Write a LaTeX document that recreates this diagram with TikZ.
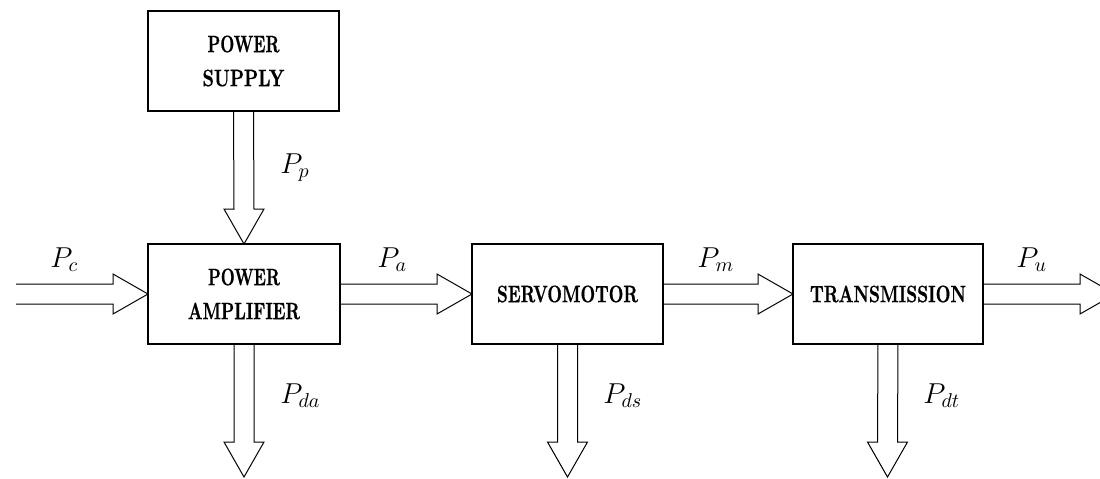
\documentclass[tikz,border=0pt]{standalone}
\usepackage{graphicx}
\usepackage{fontspec}
\newfontfamily\boxfont[FakeBold=0.7]{lmroman10-bold.otf}
\usetikzlibrary{calc}
\newcommand\bw[2]{\resizebox{#1}{8.3pt}{\boxfont #2}}
\newcommand\harr[2]{\draw[fatline] ($#1+(0,5pt)$) -- ($#2+(-17.5pt,5pt)$) -- ($#2+(-17.5pt,10pt)$) -- #2 -- ($#2+(-17.5pt,-10pt)$) -- ($#2+(-17.5pt,-5pt)$) -- ($#1+(0,-5pt)$);}
\newcommand\varr[2]{\draw[fatline] ($#1+(-5pt,0)$) -- ($#2+(-5pt,17.5pt)$) -- ($#2+(-10pt,17.5pt)$) -- #2 -- ($#2+(10pt,17.5pt)$) -- ($#2+(5pt,17.5pt)$) -- ($#1+(5pt,0)$);}
\tikzset{
  blk/.style={draw, line width=0.8pt, outer sep=0pt, inner sep=0pt, minimum height=50pt, align=center, font=\fontsize{11.5}{17}\selectfont},
  fatline/.style={draw, line width=0.5pt, line join=miter},
  lbl/.style={anchor=base west, inner sep=0pt, font=\fontsize{14.5}{17}\selectfont}
}
\begin{document}
\begin{tikzpicture}[x=0.5pt,y=-0.5pt]
\useasboundingbox (0,0) rectangle (1100,478);
\clip (0,0) rectangle (1100,478);
\node[blk, minimum width=95.5pt] (PS) at (243.5,61) {\bw{36pt}{POWER}\\\bw{41pt}{SUPPLY}};
\node[blk, minimum width=96pt] (PA) at (244,294) {\bw{36pt}{POWER}\\\bw{56pt}{AMPLIFIER}};
\node[blk, minimum width=95.5pt] (SM) at (567.5,294) {\bw{70.5pt}{SERVOMOTOR}};
\node[blk, minimum width=95pt] (TR) at (888,294) {\bw{78pt}{TRANSMISSION}};
\coordinate (cin) at (16,294);
\coordinate (uout) at (1115,294);
\coordinate (dA) at (244,477);
\coordinate (dS) at (567.5,477);
\coordinate (dT) at (887.5,477);
\varr{(PS.south)}{(PA.north)}
\harr{(cin)}{(PA.west)}
\harr{(PA.east)}{(SM.west)}
\harr{(SM.east)}{(TR.west)}
\harr{(TR.east)}{(uout)}
\varr{(PA.south)}{(dA)}
\varr{(SM.south)}{(dS)}
\varr{(TR.south)}{(dT)}
\node[lbl] (lp) at (280,173) {$P_p$};
\node[lbl] (lc) at (50,267) {$P_c$};
\node[lbl] (la) at (377,267) {$P_a$};
\node[lbl] (lm) at (697,267) {$P_m$};
\node[lbl] (lu) at (1016,267) {$P_u$};
\node[lbl] (lda) at (280,403) {$P_{da}$};
\node[lbl] (lds) at (603,403) {$P_{ds}$};
\node[lbl] (ldt) at (923,403) {$P_{dt}$};
\end{tikzpicture}
\end{document}
